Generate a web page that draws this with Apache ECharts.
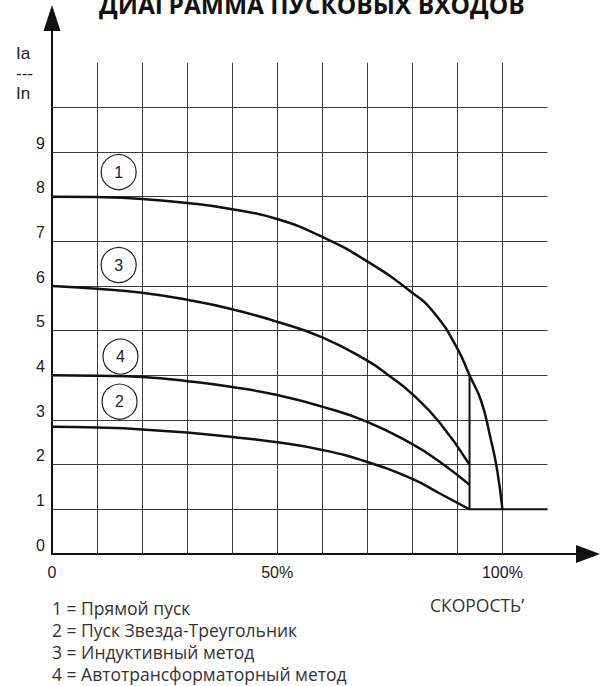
<!DOCTYPE html>
<html>
<head>
<meta charset="utf-8">
<script src="https://cdn.jsdelivr.net/npm/echarts@6/dist/echarts.min.js"></script>
<style>
  html, body { margin: 0; padding: 0; background: #fff; }
  #chart { width: 601px; height: 686px; }
</style>
</head>
<body>
<div id="chart"></div>
<script>
// speed in % of nominal, current as Ia/In
var curveDirect = [[0, 8.0], [10, 7.99], [20, 7.95], [30, 7.86], [40, 7.72], [50, 7.5], [60, 7.1],
    [70, 6.55], [80, 5.85], [85, 5.38], [90, 4.6], [92.7, 4.0], [95.3, 3.42], [97.3, 2.62],
    [98.8, 1.9], [100, 1.0]];
var curveStarDelta = [[0, 2.85], [10, 2.83], [20, 2.79], [30, 2.72], [40, 2.62], [50, 2.5], [60, 2.33],
    [70, 2.06], [80, 1.68], [86, 1.36], [92.7, 1.0]];
var curveInductive = [[0, 6.0], [10, 5.94], [20, 5.85], [30, 5.69], [40, 5.48], [50, 5.2],
    [60, 4.85], [70, 4.33], [75, 3.98], [80, 3.58], [86, 2.95], [92.7, 2.0]];
var curveAutotrans = [[0, 4.0], [10, 3.99], [20, 3.96], [30, 3.87], [40, 3.74], [50, 3.56], [60, 3.3],
    [70, 2.96], [80, 2.46], [86, 2.07], [92.7, 1.55]];
var switchOver = [[92.7, 4.0], [92.7, 1.0], [110, 1.0]];

var markers = [[14.8, 8.55, '1'], [14.8, 6.47, '3'], [15.2, 4.42, '4'], [15.0, 3.41, '2']];

var xGrid = [10, 20, 30, 40, 50, 60, 70, 80, 90, 100];
var yGrid = [1, 2, 3, 4, 5, 6, 7, 8, 9, 10];
var xLabels = {0: '0', 50: '50%', 100: '100%'};
var yLabels = [0, 1, 2, 3, 4, 5, 6, 7, 8, 9];

var legendLines = [
    '1 = Прямой пуск',
    '2 = Пуск Звезда-Треугольник',
    '3 = Индуктивный метод',
    '4 = Автотрансформаторный метод'
];

var gridLines = [];
xGrid.forEach(function(x) { gridLines.push({coords: [[x, 0], [x, 11]]}); });
yGrid.forEach(function(y) { gridLines.push({coords: [[0, y], [110, y]]}); });

var curveStyle = function(data) {
    return {
        type: 'line',
        data: data,
        showSymbol: false,
        smooth: 0.5,
        lineStyle: {color: '#111', width: 2.5},
        z: 3
    };
};

var chart = echarts.init(document.getElementById('chart'), null, {renderer: 'svg'});
chart.setOption({
    animation: false,
    title: [{
        text: 'ДИАГРАММА ПУСКОВЫХ ВХОДОВ',
        left: 99, top: -8, padding: 0,
        textStyle: {fontFamily: 'Open Sans', fontWeight: 'bold', fontSize: 24.5, color: '#111'}
    }, {
        text: 'Ia\n---\nIn',
        left: 16, top: 43, padding: 0,
        textStyle: {fontFamily: 'Liberation Sans', fontWeight: 'normal', fontSize: 17, lineHeight: 20, color: '#222'}
    }, {
        text: legendLines.join('\n'),
        left: 52, top: 597, padding: 0,
        textStyle: {fontFamily: 'Open Sans', fontWeight: 'normal', fontSize: 17.5, lineHeight: 22, color: '#333'}
    }, {
        text: 'СКОРОСТЬ’',
        left: 430, top: 594, padding: 0,
        textStyle: {fontFamily: 'Open Sans', fontWeight: 'normal', fontSize: 17.5, lineHeight: 22, color: '#333'}
    }],
    grid: {left: 52, right: 13, top: 18, bottom: 132},
    xAxis: {
        type: 'value', min: 0, max: 119, interval: 10,
        axisLine: {lineStyle: {color: '#111', width: 2}, symbol: ['none', 'triangle'], symbolSize: [18, 24]},
        axisTick: {show: false},
        splitLine: {show: false},
        axisLabel: {
            margin: 10, fontSize: 16, color: '#222', fontFamily: 'Liberation Sans',
            formatter: function(v) { return xLabels[v] || ''; }
        }
    },
    yAxis: {
        type: 'value', min: 0, max: 12, interval: 1,
        axisLine: {lineStyle: {color: '#111', width: 2}, symbol: ['none', 'triangle'], symbolSize: [17, 26]},
        axisTick: {show: false},
        splitLine: {show: false},
        axisLabel: {
            margin: 7, fontSize: 16, color: '#222', fontFamily: 'Liberation Sans',
            verticalAlign: 'bottom', lineHeight: 18,
            formatter: function(v) { return yLabels.indexOf(v) >= 0 ? String(v) : ''; }
        }
    },
    series: [{
        type: 'lines',
        coordinateSystem: 'cartesian2d',
        data: gridLines,
        silent: true,
        lineStyle: {color: '#3a3a3a', width: 1, opacity: 1},
        z: 1
    },
    curveStyle(curveDirect),
    curveStyle(curveStarDelta),
    curveStyle(curveInductive),
    curveStyle(curveAutotrans),
    {
        type: 'line',
        data: switchOver,
        showSymbol: false,
        lineStyle: {color: '#111', width: 2},
        z: 3
    }, {
        type: 'scatter',
        data: markers,
        symbol: 'circle',
        symbolSize: 35,
        itemStyle: {color: '#fff', borderColor: '#222', borderWidth: 1.2, opacity: 1},
        label: {
            show: true, position: 'inside', fontSize: 16, color: '#222', fontFamily: 'Liberation Sans',
            formatter: function(p) { return p.data[2]; }
        },
        z: 4
    }]
});
</script>
</body>
</html>
